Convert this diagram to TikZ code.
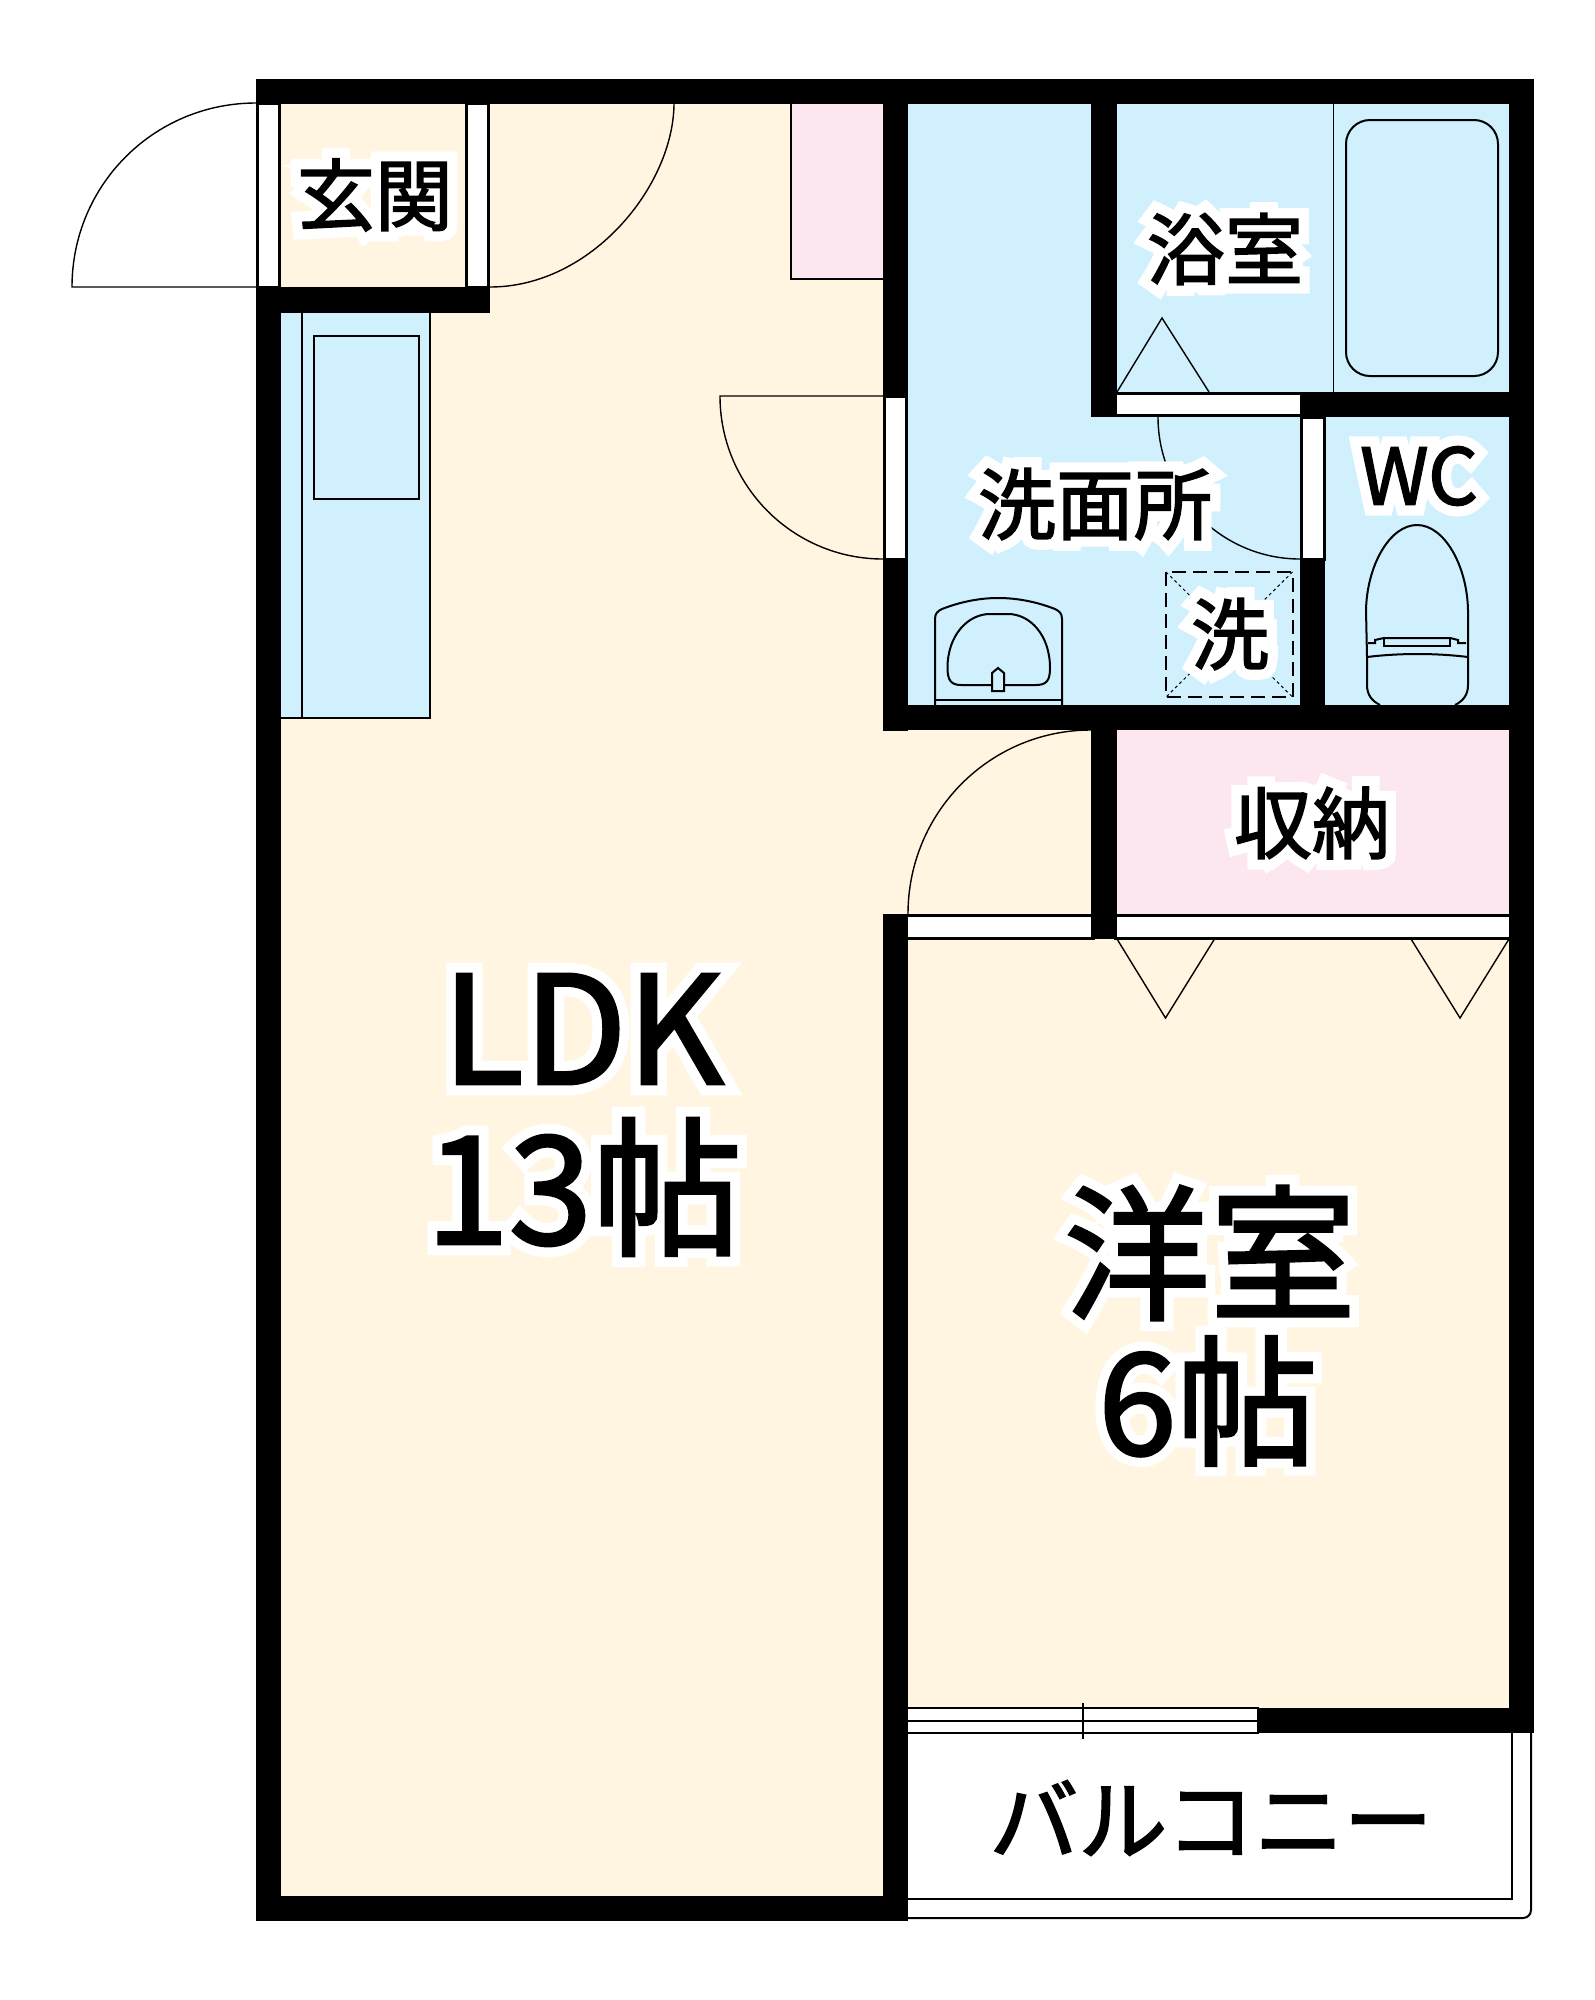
\documentclass[tikz,border=0pt]{standalone}
\usepackage{fontspec}
\setmainfont{Noto Sans CJK JP}
\newfontfamily\heavyfont[FakeBold=2]{Noto Sans CJK JP}
\newfontfamily\halosmall[FakeBold=28,Color=FFFFFF]{Noto Sans CJK JP}
\newfontfamily\halobig[FakeBold=15,Color=FFFFFF]{Noto Sans CJK JP}
\newcommand\lbl[1]{\leavevmode\rlap{\halosmall #1}#1}
\newcommand\lblbig[1]{\leavevmode\rlap{\halobig #1}#1}
\definecolor{beige}{HTML}{FFF5E1}
\definecolor{wet}{HTML}{D0F0FD}
\definecolor{closet}{HTML}{FCE6F0}
\tikzset{
  wall/.style={fill=black,draw=none},
  floorbeige/.style={fill=beige,draw=none},
  floorwet/.style={fill=wet,draw=none},
  floorpink/.style={fill=closet,draw=none},
  opening/.style={fill=white,draw=black,line width=3pt},
  fix/.style={draw=black,line width=2pt},
  thinln/.style={draw=black,line width=1.4pt},
  sm/.style={inner sep=0pt,font=\heavyfont\fontsize{78}{90}\selectfont},
  big/.style={inner sep=0pt,font=\heavyfont\fontsize{#1}{170}\selectfont},
}
\begin{document}
\begin{tikzpicture}[x=1pt,y=-1pt]
\useasboundingbox (0,0) rectangle (1595,2000);
\fill[white] (0,0) rectangle (1595,2000);
% floors
\path[floorbeige] (256,79) rectangle (883,1921);
\path[floorbeige] (883,730) rectangle (1091,939);
\path[floorbeige] (883,939) rectangle (1534,1733);
\path[floorpink] (791,103) rectangle (883,279);
\path[floorwet] (883,79) rectangle (1534,730);
\path[floorpink] (1091,705) rectangle (1534,939);
% kitchen
\draw[floorwet] (281,313) rectangle (430,718);
\draw[fix] (430,313) -- (430,718) -- (281,718);
\draw[fix] (302,313) -- (302,718);
\draw[fix] (314,336) rectangle (419,499);
% closet outline
\draw[thinln] (791,103) -- (791,279) -- (883,279);
% balcony
\draw[fix] (908,1899) -- (1512,1899) -- (1512,1733);
\draw[fix,rounded corners=8pt] (908,1918) -- (1531,1918) -- (1531,1733);
% doors
\draw[thinln] (256,103) .. controls (154,103) and (72,185) .. (72,287) -- (256,287);
\draw[thinln] (490,287) .. controls (592,287) and (674,185) .. (674,103);
\draw[thinln] (883,396) -- (720,396) .. controls (720,486) and (793,559) .. (883,559);
\draw[thinln] (1158,417) .. controls (1158,495) and (1222,559) .. (1300,559);
\draw[thinln] (908,914) .. controls (908,812) and (990,730) .. (1091,730);
% bath
\draw[thinln] (1333.5,103) -- (1333.5,392);
\draw[fix,rounded corners=24pt] (1346,120) rectangle (1498,376);
\draw[thinln] (1117,392) -- (1162,318) -- (1209,392);
% closet folding doors
\draw[thinln] (1117,939) -- (1165.5,1018) -- (1214.5,939);
\draw[thinln] (1411,939) -- (1460,1018) -- (1509,939);
% washer
\draw[draw=black,line width=2pt,dash pattern=on 14pt off 7pt] (1166,572) rectangle (1292.5,697);
\draw[draw=black,line width=1pt,dash pattern=on 3pt off 3pt] (1166,572) -- (1292.5,697) (1292.5,572) -- (1166,697);
% sink
\draw[fix] (935,705) -- (935,619) .. controls (935,613) and (938,611) .. (942,609) .. controls (965,600) and (985,598) .. (998,598) .. controls (1012,598) and (1032,600) .. (1055,609) .. controls (1059,611) and (1062,613) .. (1062,619) -- (1062,705);
\draw[fix] (935,700) -- (1062,700);
\draw[fix] (947.5,668) .. controls (947.5,635) and (968,614) .. (990,614) -- (1008,614) .. controls (1030,614) and (1050,635) .. (1050,668) .. controls (1050,680) and (1047,685) .. (1036,685) -- (961,685) .. controls (951,685) and (947.5,680) .. (947.5,668) -- cycle;
\draw[fix,fill=wet] (992,691) -- (992,673) -- (998,668) -- (1004,673) -- (1004,691) -- cycle;
% toilet
\draw[fix] (1367,657) -- (1366,610) .. controls (1367,565) and (1390,525) .. (1417,525) .. controls (1444,525) and (1467,565) .. (1468,610) -- (1468,657);
\draw[fix] (1367,657) .. controls (1400,653) and (1435,653) .. (1468,657);
\draw[fix] (1367,657) -- (1367,685) .. controls (1367,695) and (1372,701) .. (1380,705) (1468,657) -- (1468,685) .. controls (1468,695) and (1463,701) .. (1455,705);
\draw[fix] (1368,643) -- (1375,643) -- (1375,640) -- (1384,638) -- (1450,638) -- (1458,640) -- (1458,643) -- (1466,643);
\draw[fix] (1384,638) rectangle (1450,646);
% windows and door openings
\draw[opening] (257.5,103) rectangle (279.5,287);
\draw[opening] (466.5,103) rectangle (488.5,287);
\draw[opening] (884.5,396) rectangle (906.5,559);
\draw[opening] (1115,393.5) rectangle (1303,415.5);
\draw[opening] (1301.5,417) rectangle (1324.5,559);
\draw[opening] (906,915.5) rectangle (1093,938);
\draw[opening] (1115,915.5) rectangle (1511,938);
\draw[line width=2pt,fill=white] (906,1708) rectangle (1258,1733);
\draw[line width=2pt] (908,1720.5) -- (1258,1720.5);
\draw[line width=1.5pt] (1083,1703) -- (1083,1739);
% walls
\path[wall] (256,79) rectangle (1534,103.5);
\path[wall] (1509,79) rectangle (1534,1733);
\path[wall] (256,287) rectangle (490,313);
\path[wall] (256,287) rectangle (281,1921);
\path[wall] (256,1896) rectangle (908,1921);
\path[wall] (883,79) rectangle (908,396);
\path[wall] (883,559) rectangle (908,731);
\path[wall] (883,914) rectangle (908,1921);
\path[wall] (1091,79) rectangle (1117,417);
\path[wall] (1091,730) rectangle (1117,939);
\path[wall] (1091,414) rectangle (1301,417);
\path[wall] (1300,392) rectangle (1534,417);
\path[wall] (1300,559) rectangle (1325,730);
\path[wall] (883,705) rectangle (1534,730);
\path[wall] (1258,1708) rectangle (1534,1733);
% labels
\node[sm] (genkan) at (375,195) {\lbl{玄関}};
\node[sm] (yokushitsu) at (1225,249) {\lbl{浴室}};
\node[sm] (senmen) at (1095,504) {\lbl{洗面所}};
\node[sm] (wc) at (1419,476) {\lbl{WC}};
\node[sm] (sentaku) at (1230,634) {\lbl{洗}};
\node[sm] (shuno) at (1312,823) {\lbl{収納}};
\node[big=150] (ldk) at (583,1029) {\lblbig{LDK}};
\node[big=150] (ldksize) at (584,1187) {\lblbig{13帖}};
\node[big=146] (yoshitsu) at (1210,1253) {\lblbig{洋室}};
\node[big=141] (yosize) at (1208,1401) {\lblbig{6帖}};
\node[inner sep=0pt,font=\heavyfont\fontsize{89}{100}\selectfont] (balcony) at (1211,1818) {バルコニー};
\end{tikzpicture}
\end{document}
